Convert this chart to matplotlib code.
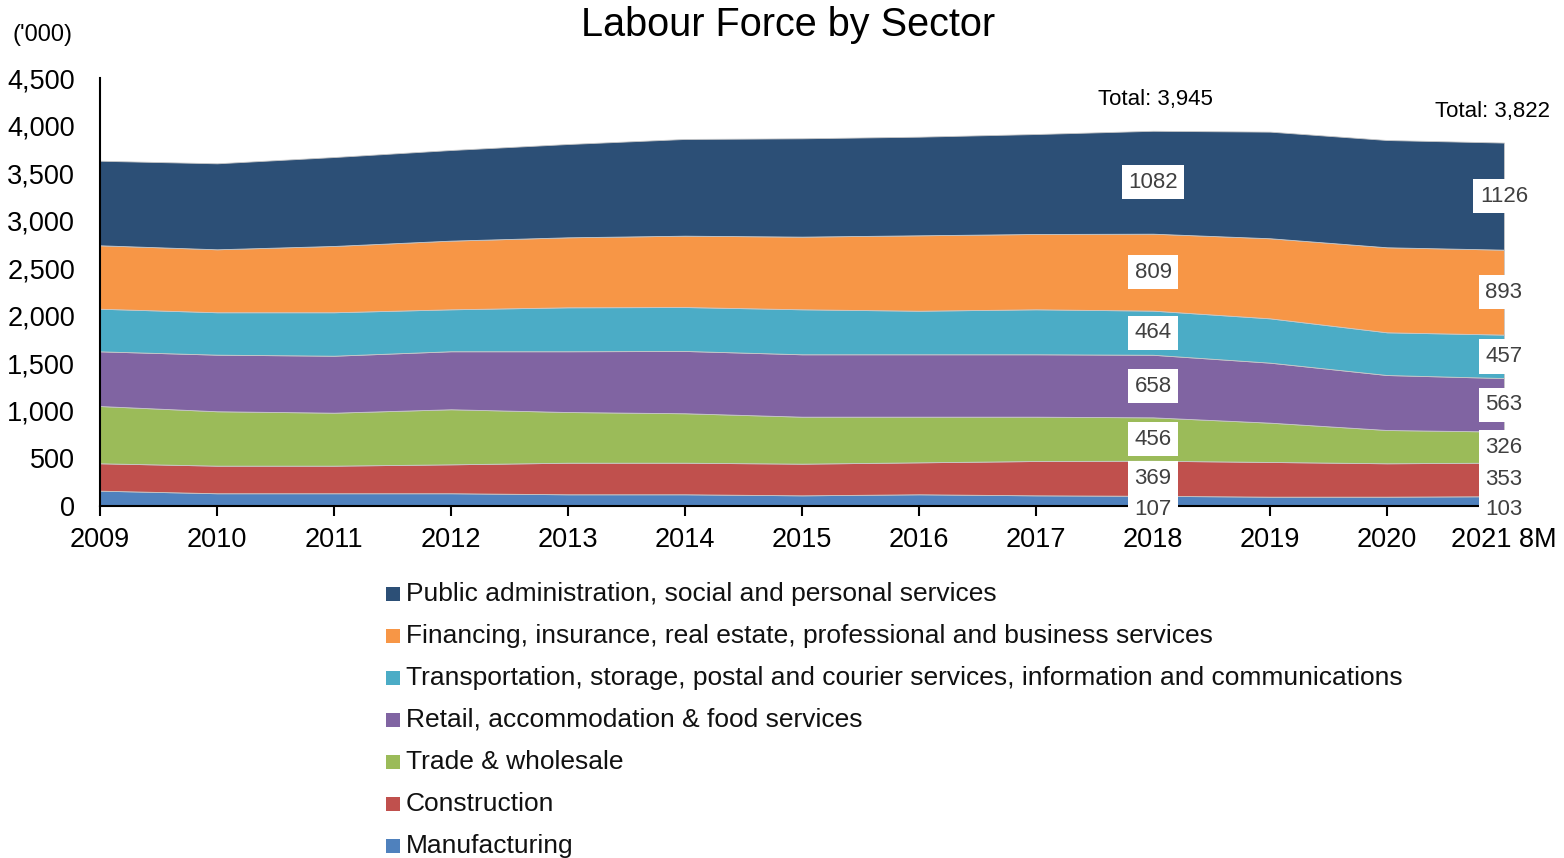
import matplotlib
matplotlib.use("Agg")
import matplotlib.pyplot as plt
from matplotlib.patches import Rectangle
from matplotlib.ticker import FuncFormatter
import numpy as np

plt.rcParams['font.family'] = ['Liberation Sans', 'DejaVu Sans']

years = ["2009", "2010", "2011", "2012", "2013", "2014", "2015",
         "2016", "2017", "2018", "2019", "2020", "2021 8M"]

# Employment by sector, thousands (bottom of the stack first)
manufacturing = [161, 134, 134, 134, 123, 123, 112, 123, 112, 107, 98, 98, 103]
construction = [288, 290, 290, 304, 332, 332, 333, 336, 361, 369, 365, 351, 353]
trade_wholesale = [602, 572, 557, 579, 533, 520, 494, 480, 466, 456, 413, 350, 326]
retail_food = [575, 595, 599, 610, 639, 655, 656, 656, 656, 658, 631, 578, 563]
transport_ict = [448, 446, 457, 441, 462, 462, 473, 458, 473, 464, 466, 449, 457]
finance_business = [667, 662, 697, 722, 736, 750, 764, 793, 792, 809, 842, 894, 893]
public_social = [889, 904, 935, 953, 981, 1017, 1034, 1037, 1051, 1082, 1121, 1128, 1126]

# Published totals for the labelled periods
labelled_years = [9, 12]          # 2018 and 2021 8M
labelled_totals = [3945, 3822]

sector_names = [
    "Manufacturing",
    "Construction",
    "Trade & wholesale",
    "Retail, accommodation & food services",
    "Transportation, storage, postal and courier services, information and communications",
    "Financing, insurance, real estate, professional and business services",
    "Public administration, social and personal services",
]
sector_colors = ["#4F81BD", "#C0504D", "#9BBB59", "#8064A2",
                 "#4BACC6", "#F79646", "#2C4F76"]

series = np.array([manufacturing, construction, trade_wholesale, retail_food,
                   transport_ict, finance_business, public_social], dtype=float)

W, H = 1564, 858
fig = plt.figure(figsize=(W / 100, H / 100), dpi=100)
ax = fig.add_axes([100 / W, 1 - 506 / H, (1504 - 100) / W, (506 - 78) / H])

x = np.arange(len(years))
ax.stackplot(x, series, colors=sector_colors, edgecolor="#c8c8c8", linewidth=0.6)

ax.set_xlim(0, len(years) - 1)
ax.set_ylim(0, 4500)
ax.set_yticks(np.arange(0, 4501, 500))
ax.yaxis.set_major_formatter(FuncFormatter(lambda v, p: f"{int(v):,}"))
ax.set_xticks(x)
ax.set_xticklabels(years)
ax.tick_params(axis="y", length=0, pad=18, labelsize=19.5)
ax.tick_params(axis="x", length=7, width=1.5, direction="out", pad=8, labelsize=19.5)
for side in ("top", "right"):
    ax.spines[side].set_visible(False)
for side in ("left", "bottom"):
    ax.spines[side].set_linewidth(1.5)
    ax.spines[side].set_zorder(5)

# Value labels in the middle of each band
cum = np.cumsum(series, axis=0)
for xi in labelled_years:
    for k in range(series.shape[0]):
        val = series[k, xi]
        mid = cum[k, xi] - val / 2
        dy = -6 if k == 0 else 0
        ax.annotate(f"{int(val)}", (xi, mid), xytext=(0, dy),
                    textcoords="offset points", ha="center", va="center",
                    fontsize=16, color="#404040", annotation_clip=False,
                    zorder=6 + k,
                    bbox=dict(boxstyle="square,pad=0.3", fc="white", ec="none"))

# Totals above the stack
ax.text(9.02, cum[-1, 9] + 330, f"Total: {labelled_totals[0]:,}", ha="center",
        va="center", fontsize=16, color="black", clip_on=False)
ax.text(11.9, cum[-1, 12] + 330, f"Total: {labelled_totals[1]:,}", ha="center",
        va="center", fontsize=16, color="black", clip_on=False)

fig.text(788 / W, 1 - 25 / H, "Labour Force by Sector", ha="center",
         va="center", fontsize=28.5)
fig.text(12 / W, 1 - 35 / H, "('000)", ha="left", va="center", fontsize=17)

# Legend: top sector first
for i, k in enumerate(range(series.shape[0] - 1, -1, -1)):
    yc = 594 + 42 * i
    fig.patches.append(Rectangle((386 / W, 1 - (yc + 7) / H), 14 / W, 14 / H,
                                 transform=fig.transFigure,
                                 facecolor=sector_colors[k], edgecolor="none"))
    fig.text(406 / W, 1 - yc / H, sector_names[k], ha="left", va="center",
             fontsize=19, color="#111111")

fig.savefig("out.png", dpi=100)
